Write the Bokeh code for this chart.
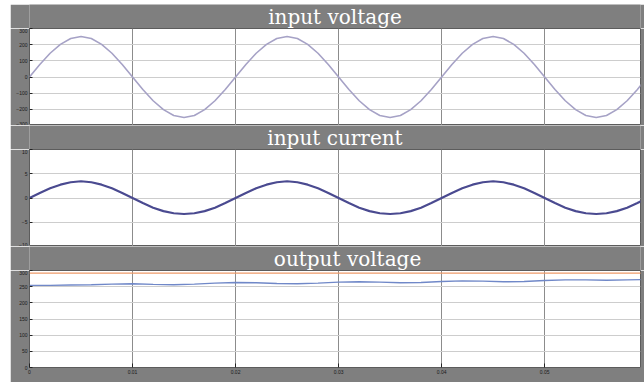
from bokeh.plotting import figure
from bokeh.layouts import column, row, Spacer
from bokeh.models import Range1d, FixedTicker
from bokeh.core.properties import value
from bokeh.embed import file_html
from bokeh.resources import INLINE

# ---- data ----
t = [i / 1000 for i in range(61)]  # sample times (s)

v_in = [0, 77, 147, 202, 238, 250, 238, 202, 147, 77,
        0, -77, -147, -202, -238, -250, -238, -202, -147, -77,
        0, 77, 147, 202, 238, 250, 238, 202, 147, 77,
        0, -77, -147, -202, -238, -250, -238, -202, -147, -77,
        0, 77, 147, 202, 238, 250, 238, 202, 147, 77,
        0, -77, -147, -202, -238, -250, -238, -202, -147, -77,
        0]

i_in = [0, 1.05, 2.0, 2.75, 3.25, 3.45, 3.25, 2.75, 2.0, 1.05,
        0, -1.05, -2.0, -2.7, -3.15, -3.3, -3.15, -2.7, -2.0, -1.05,
        0, 1.05, 2.0, 2.75, 3.25, 3.45, 3.25, 2.75, 2.0, 1.05,
        0, -1.05, -2.0, -2.7, -3.15, -3.3, -3.15, -2.7, -2.0, -1.05,
        0, 1.05, 2.0, 2.75, 3.25, 3.45, 3.25, 2.75, 2.0, 1.05,
        0, -1.05, -2.0, -2.7, -3.15, -3.3, -3.15, -2.7, -2.0, -1.05,
        0]

t_out = [0.000, 0.002, 0.004, 0.006, 0.008, 0.010, 0.012, 0.014, 0.016, 0.018,
         0.020, 0.022, 0.024, 0.026, 0.028, 0.030, 0.032, 0.034, 0.036, 0.038,
         0.040, 0.042, 0.044, 0.046, 0.048, 0.050, 0.052, 0.054, 0.056, 0.058, 0.060]
v_out = [254, 254, 255, 256, 258, 259, 257, 256, 258, 261,
         263, 262, 260, 259, 261, 264, 265, 264, 262, 263,
         266, 268, 267, 265, 266, 269, 271, 271, 270, 271, 272]

t_ref = [0.0, 0.06]
v_ref = [292, 292]

x_ticks = [0, 0.01, 0.02, 0.03, 0.04, 0.05, 0.06]
y1_ticks = [-300, -200, -100, 0, 100, 200, 300]
y2_ticks = [-10, -5, 0, 5, 10]
y3_ticks = [0, 50, 100, 150, 200, 250, 300]

titles = ["input voltage", "input current", "output voltage"]

GRAY = "#7f7f7f"
X_END = 0.0593
W = 634
BAND_H = 24


def make_fig(height, bbottom, yr, yticks, show_x):
    p = figure(width=W, height=height, x_range=Range1d(0, X_END),
               y_range=Range1d(*yr), output_backend="svg",
               toolbar_location=None, title=None,
               x_axis_location="below" if show_x else None)
    p.min_border_left = 19
    p.min_border_right = 4
    p.min_border_top = 0
    p.min_border_bottom = bbottom
    p.background_fill_color = "white"
    p.border_fill_color = GRAY
    p.outline_line_color = "#5c5c5c"

    p.yaxis.ticker = FixedTicker(ticks=yticks)
    p.ygrid.ticker = FixedTicker(ticks=yticks)
    p.xgrid.ticker = FixedTicker(ticks=x_ticks)
    for ax in p.yaxis:
        ax.major_label_text_font_size = "5px"
        ax.major_label_text_color = "#1a1a1a"
        ax.major_tick_in = 3
        ax.major_tick_out = 0
        ax.minor_tick_in = 0
        ax.minor_tick_out = 0
        ax.axis_line_color = None
        ax.major_tick_line_color = "#222222"
        ax.major_label_standoff = 2
    if show_x:
        p.xaxis.ticker = FixedTicker(ticks=x_ticks)
        for ax in p.xaxis:
            ax.major_label_text_font_size = "5px"
            ax.major_label_text_color = "#1a1a1a"
            ax.major_tick_in = 4
            ax.major_tick_out = 0
            ax.minor_tick_in = 0
            ax.minor_tick_out = 0
            ax.axis_line_color = None
            ax.major_tick_line_color = "#222222"
            ax.major_label_standoff = 2
    p.ygrid.grid_line_color = "#cdcdcd"
    p.ygrid.grid_line_width = 1
    p.xgrid.grid_line_color = "#8c8c8c"
    p.xgrid.grid_line_width = 1
    return p


def make_band(text, cx):
    b = figure(width=W, height=BAND_H, x_range=Range1d(0, W),
               y_range=Range1d(0, BAND_H), output_backend="svg",
               toolbar_location=None, title=None,
               x_axis_location=None, y_axis_location=None)
    b.min_border = 0
    b.min_border_left = 0
    b.min_border_right = 0
    b.min_border_top = 0
    b.min_border_bottom = 0
    b.background_fill_color = GRAY
    b.border_fill_color = GRAY
    b.outline_line_color = None
    b.xgrid.grid_line_color = None
    b.ygrid.grid_line_color = None
    b.text(x=[cx], y=[BAND_H / 2], text=[text], text_align="center",
           text_baseline="middle", text_color="white",
           text_font=value("DejaVu Serif"), text_font_size="20px")
    return b


band1 = make_band(titles[0], 317)
p1 = make_fig(97, 0, (-300, 300), y1_ticks, False)
p1.line(t, v_in, line_color="#a6a2c6", line_width=1.6)

band2 = make_band(titles[1], 317)
p2 = make_fig(97, 0, (-10, 10), y2_ticks, False)
p2.line(t, i_in, line_color="#4a4a90", line_width=2.2)

band3 = make_band(titles[2], 330)
p3 = make_fig(112, 15, (0, 300), y3_ticks, True)
p3.line(t_ref, v_ref, line_color="#ee9a68", line_width=1.4)
p3.line(t_out, v_out, line_color="#7088c8", line_width=1.4)

layout = column(Spacer(height=4),
                row(Spacer(width=10),
                    column(band1, p1, band2, p2, band3, p3, spacing=0),
                    spacing=0),
                spacing=0)

open("out.html", "w").write(file_html(layout, INLINE))
